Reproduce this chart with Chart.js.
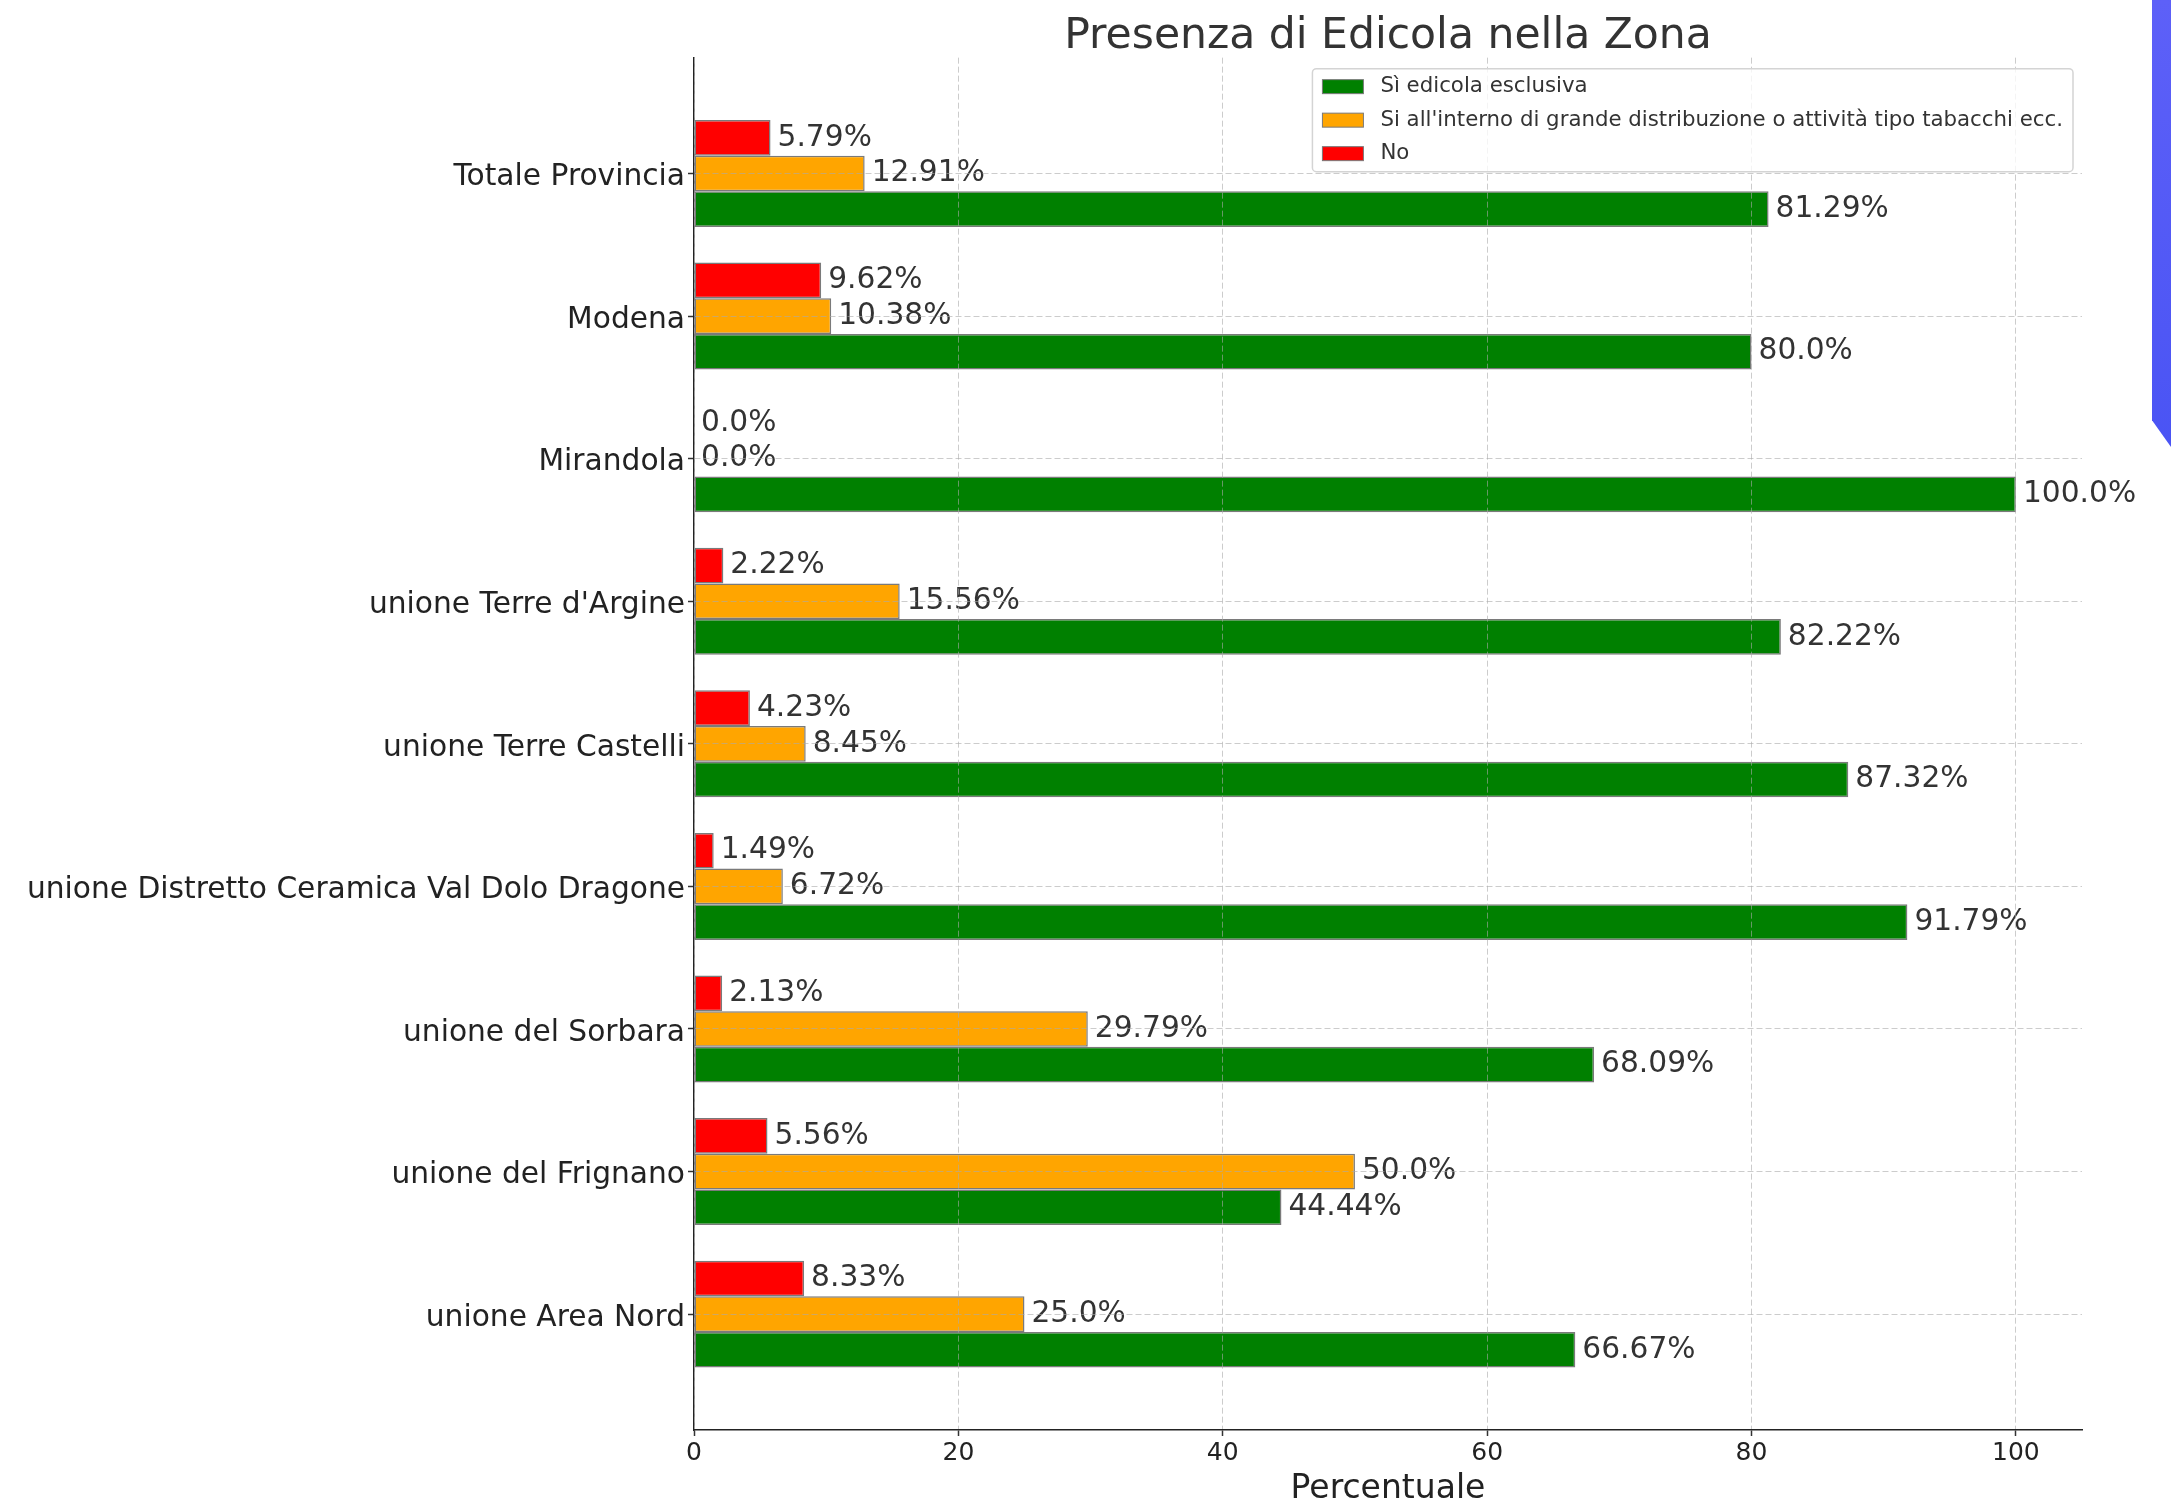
<!DOCTYPE html>
<html lang="it">
<head>
<meta charset="utf-8">
<title>Presenza di Edicola nella Zona</title>
<script src="https://cdn.jsdelivr.net/npm/chart.js@4.4.1/dist/chart.umd.min.js"></script>
<style>
    html, body { margin: 0; padding: 0; background: #fff; }
    #wrap { position: relative; width: 2171px; height: 1503px; overflow: hidden; }
    #corner {
        position: absolute; left: 2152px; top: 0; width: 19px; height: 447px;
        background: linear-gradient(#5d60f8, #4a54f4);
        clip-path: polygon(0 0, 100% 0, 100% 100%, 0 94%);
    }
</style>
</head>
<body>
<div id="wrap">
    <canvas id="chart" width="2171" height="1503"></canvas>
    <div id="corner"></div>
</div>
<script>
// Data
const zone = [
    'Totale Provincia',
    'Modena',
    'Mirandola',
    "unione Terre d'Argine",
    'unione Terre Castelli',
    'unione Distretto Ceramica Val Dolo Dragone',
    'unione del Sorbara',
    'unione del Frignano',
    'unione Area Nord'
];
const siEsclusiva = [81.29, 80.0, 100.0, 82.22, 87.32, 91.79, 68.09, 44.44, 66.67];
const siInterno = [12.91, 10.38, 0.0, 15.56, 8.45, 6.72, 29.79, 50.0, 25.0];
const no = [5.79, 9.62, 0.0, 2.22, 4.23, 1.49, 2.13, 5.56, 8.33];
const xTicks = [0, 20, 40, 60, 80, 100];

const FONT = '"DejaVu Sans", sans-serif';
const GRID = 'rgba(170,170,170,0.6)';

const toPoints = (arr) => arr.map((v, i) => ({ x: v, y: i }));
const fmt = (v) => (Number.isInteger(v) ? v.toFixed(1) : String(v)) + '%';

// value labels at the end of each bar
const valueLabels = {
    id: 'valueLabels',
    afterDatasetsDraw(chart) {
        const ctx = chart.ctx;
        ctx.save();
        ctx.font = '29.7px ' + FONT;
        ctx.fillStyle = '#333';
        ctx.textAlign = 'left';
        ctx.textBaseline = 'middle';
        chart.data.datasets.forEach((ds, di) => {
            chart.getDatasetMeta(di).data.forEach((el, i) => {
                ctx.fillText(fmt(ds.data[i].x), el.x + 7, el.y);
            });
        });
        ctx.restore();
    }
};

// matplotlib-style legend box in the upper right of the plot
const boxLegend = {
    id: 'boxLegend',
    afterDraw(chart) {
        const { ctx, chartArea } = chart;
        const items = chart.data.datasets.slice().reverse();
        ctx.save();
        ctx.font = '21.3px ' + FONT;
        const textW = Math.max(...items.map(d => ctx.measureText(d.label).width));
        const w = 68 + textW + 10;
        const h = 103;
        const x = chartArea.right - 9 - w;
        const y = chartArea.top + 11;
        ctx.beginPath();
        ctx.roundRect(x, y, w, h, 4);
        ctx.fillStyle = 'rgba(255,255,255,0.8)';
        ctx.fill();
        ctx.strokeStyle = '#d4d4d4';
        ctx.lineWidth = 1.5;
        ctx.stroke();
        items.forEach((d, i) => {
            const cy = y + 18 + i * 33.5;
            ctx.fillStyle = d.backgroundColor;
            ctx.fillRect(x + 10, cy - 7, 41, 14);
            ctx.strokeStyle = d.borderColor;
            ctx.lineWidth = 1;
            ctx.strokeRect(x + 10, cy - 7, 41, 14);
            ctx.fillStyle = '#333';
            ctx.textBaseline = 'middle';
            ctx.fillText(d.label, x + 68, cy);
        });
        ctx.restore();
    }
};

const barStyle = { borderColor: '#7a7a7a', borderWidth: 1.5, borderSkipped: false };

new Chart(document.getElementById('chart').getContext('2d'), {
    type: 'bar',
    data: {
        datasets: [
            { label: 'No', data: toPoints(no), backgroundColor: '#ff0000', ...barStyle },
            { label: "Si all'interno di grande distribuzione o attività tipo tabacchi ecc.", data: toPoints(siInterno), backgroundColor: '#ffa500', ...barStyle },
            { label: 'Sì edicola esclusiva', data: toPoints(siEsclusiva), backgroundColor: '#008000', ...barStyle }
        ]
    },
    options: {
        indexAxis: 'y',
        responsive: false,
        animation: false,
        categoryPercentage: 0.75,
        barPercentage: 1,
        layout: { padding: { left: 0, right: 89, top: 0, bottom: 0 } },
        scales: {
            y: {
                type: 'linear',
                reverse: true,
                offset: false,
                min: -0.8125,
                max: 8.8125,
                afterBuildTicks(scale) { scale.ticks = zone.map((_, i) => ({ value: i })); },
                afterFit(scale) { scale.width = 694; },
                ticks: {
                    callback: (v) => zone[v],
                    font: { family: FONT, size: 29.7 },
                    color: '#222',
                    padding: 3,
                    labelOffset: 4
                },
                grid: { offset: false, z: 1, color: GRID, lineWidth: 1, tickLength: 6, tickColor: '#333', tickWidth: 1.5 },
                border: { display: true, color: '#222', width: 1.5, dash: [6, 3], z: 1 }
            },
            x: {
                type: 'linear',
                min: 0,
                max: 105,
                afterBuildTicks(scale) { scale.ticks = xTicks.map(v => ({ value: v })); },
                afterFit(scale) { scale.height = 73; },
                ticks: {
                    font: { family: FONT, size: 25 },
                    color: '#222',
                    padding: 2
                },
                grid: { z: 1, color: GRID, lineWidth: 1, tickLength: 6, tickColor: '#333', tickWidth: 1.5 },
                border: { display: true, color: '#222', width: 1.5, dash: [6, 3], z: 1 },
                title: {
                    display: true,
                    text: 'Percentuale',
                    font: { family: FONT, size: 33, lineHeight: 0.85 },
                    color: '#222',
                    padding: 0
                }
            }
        },
        plugins: {
            legend: { display: false },
            tooltip: { enabled: false },
            title: {
                display: true,
                text: 'Presenza di Edicola nella Zona',
                fullSize: false,
                font: { family: FONT, size: 42.5, weight: 'normal', lineHeight: 0.98 },
                color: '#333',
                padding: { top: 16, bottom: 0 }
            }
        }
    },
    plugins: [valueLabels, boxLegend]
});
</script>
</body>
</html>
